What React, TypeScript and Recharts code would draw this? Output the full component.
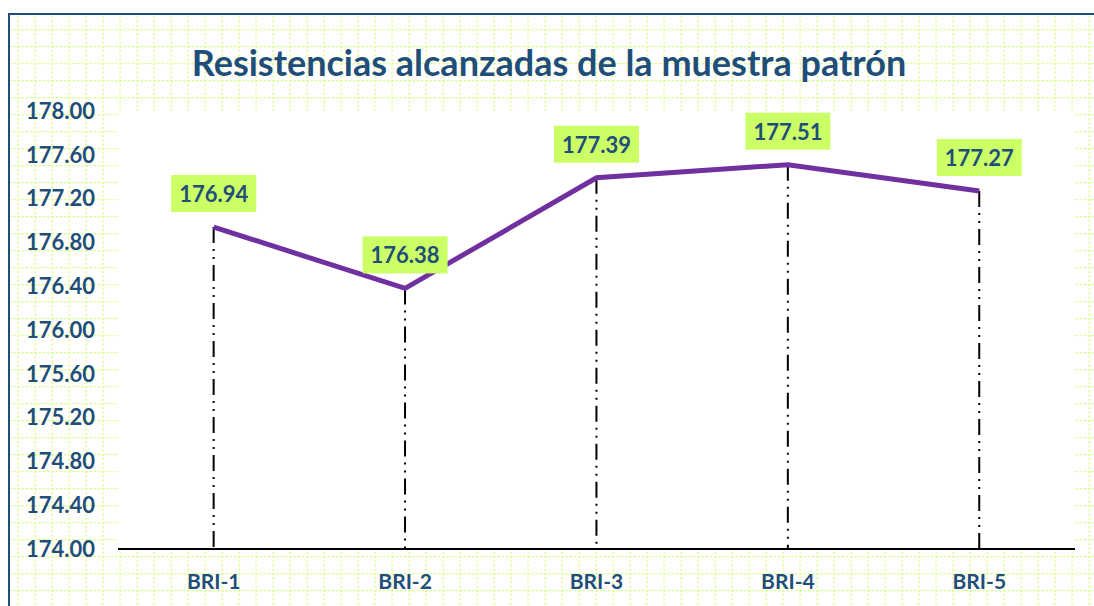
import { ComposedChart, Line, Bar, XAxis, YAxis, CartesianGrid, LabelList } from 'recharts'

const categories = ['BRI-1', 'BRI-2', 'BRI-3', 'BRI-4', 'BRI-5']
const resistencias = [176.94, 176.38, 177.39, 177.51, 177.27]
const yTicks = [174.0, 174.4, 174.8, 175.2, 175.6, 176.0, 176.4, 176.8, 177.2, 177.6, 178.0]

const data = categories.map((c, i) => ({ name: c, value: resistencias[i] }))

const BLUE = '#1f4e79'
const GREEN = '#ccff66'
const FONT = 'Lato, "Open Sans", sans-serif'

// vertical dash-dot-dot line from the point down to the axis
function DropLine(props: any) {
  const { x, y, width, height } = props
  const cx = x + width / 2
  return <line x1={cx} y1={y} x2={cx} y2={y + height} stroke="#000" strokeWidth={2} strokeDasharray="16 6 2 6 2 6" />
}

function ValueLabel(props: any) {
  const { x, y, value } = props
  const w = 85
  const h = 37
  return (
    <g>
      <rect x={x - w / 2} y={y - 15 - h} width={w} height={h} fill={GREEN} />
      <text x={x} y={y - 15 - h / 2} textAnchor="middle" dominantBaseline="central" fill={BLUE} fontSize={22} fontWeight="bold" fontFamily={FONT}>
        {Number(value).toFixed(2)}
      </text>
    </g>
  )
}

export default function App() {
  return (
    <div style={{ position: 'fixed', left: 0, top: 0, width: 1094, height: 606, overflow: 'hidden', background: '#fff' }}>
      <svg width={1094} height={606} style={{ position: 'absolute', left: 0, top: 0, display: 'block' }}>
        <defs>
          <pattern id="grid" x={17.5} y={29} width={17} height={17} patternUnits="userSpaceOnUse">
            <line x1={0.5} y1={0} x2={0.5} y2={17} stroke={GREEN} strokeWidth={1.5} strokeDasharray="2 2.25" />
            <line x1={0} y1={0.5} x2={17} y2={0.5} stroke={GREEN} strokeWidth={1.5} strokeDasharray="2 2.25" />
          </pattern>
        </defs>
        <rect x={10} y={15} width={1084} height={591} fill="url(#grid)" />
        <line x1={9} y1={13} x2={9} y2={606} stroke={BLUE} strokeWidth={2} />
        <line x1={8} y1={14} x2={1094} y2={14} stroke={BLUE} strokeWidth={2} />
      </svg>
      <div style={{ position: 'absolute', left: 0, top: 40, width: 1094, textAlign: 'center', paddingLeft: 2, color: BLUE, fontFamily: FONT, fontWeight: 'bold', fontSize: 36, lineHeight: '44px' }}>
        Resistencias alcanzadas de la muestra patrón
      </div>
      <div style={{ position: 'absolute', left: 0, top: 0 }}>
        <ComposedChart width={1094} height={606} data={data} margin={{ top: 111, right: 19, bottom: 27, left: 18 }}>
          <CartesianGrid fill="#ffffff" horizontal={false} vertical={false} stroke="none" />
          <XAxis
            dataKey="name"
            axisLine={{ stroke: '#000', strokeWidth: 2 }}
            tickLine={false}
            tickMargin={19}
            tick={{ fill: BLUE, fontSize: 21, fontWeight: 'bold', fontFamily: FONT }}
          />
          <YAxis
            width={100}
            domain={[174, 178]}
            ticks={yTicks}
            tickFormatter={(v: number) => v.toFixed(2)}
            axisLine={false}
            tickLine={false}
            tickSize={0}
            tickMargin={23}
            tick={{ fill: BLUE, fontSize: 22, fontWeight: 'bold', fontFamily: FONT }}
          />
          <Bar dataKey="value" shape={<DropLine />} isAnimationActive={false} />
          <Line type="linear" dataKey="value" stroke="#7030a0" strokeWidth={5} dot={false} activeDot={false} isAnimationActive={false}>
            <LabelList dataKey="value" content={<ValueLabel />} />
          </Line>
        </ComposedChart>
      </div>
    </div>
  )
}
